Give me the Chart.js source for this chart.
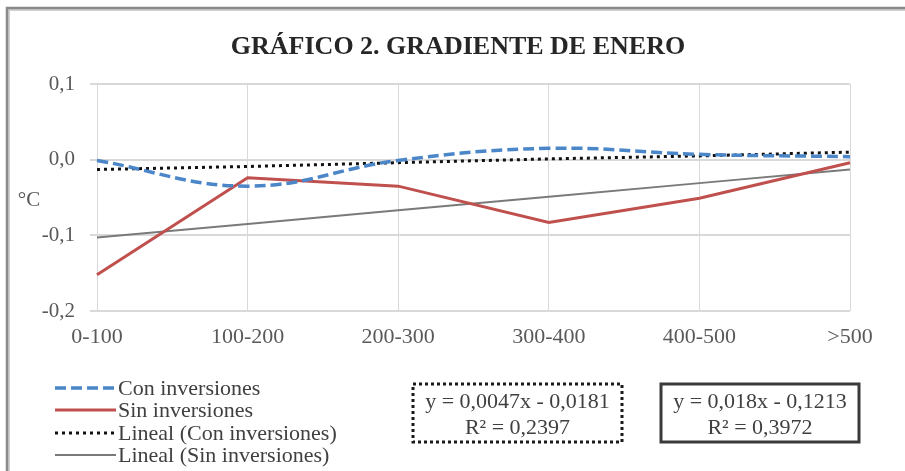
<!DOCTYPE html>
<html>
<head>
<meta charset="utf-8">
<script src="https://cdn.jsdelivr.net/npm/chart.js@4/dist/chart.umd.min.js"></script>
<style>
  html, body { margin: 0; padding: 0; background: #fff; }
  #wrap { width: 905px; height: 471px; position: relative; }
</style>
</head>
<body>
<div id="wrap"><canvas id="c" width="905" height="471"></canvas></div>
<script>
const chartTitle = 'GRÁFICO 2. GRADIENTE DE ENERO';
const yUnit = '°C';
const categories = ['0-100', '100-200', '200-300', '300-400', '400-500', '>500'];
const conInversiones = [-0.001, -0.035, -0.001, 0.015, 0.007, 0.004];
const sinInversiones = [-0.152, -0.024, -0.035, -0.083, -0.051, -0.004];
const linealCon = [-0.013, -0.009, -0.004, 0.001, 0.005, 0.010];
const linealSin = [-0.103, -0.085, -0.067, -0.049, -0.031, -0.013];
const seriesNames = ['Con inversiones', 'Sin inversiones', 'Lineal (Con inversiones)', 'Lineal (Sin inversiones)'];
const yMin = -0.2, yMax = 0.1, yStep = 0.1;
const eqCon = ['y = 0,0047x - 0,0181', 'R² = 0,2397'];
const eqSin = ['y = 0,018x - 0,1213', 'R² = 0,3972'];

const SERIF = '"Liberation Serif", "Times New Roman", serif';

const decorPlugin = {
  id: 'decor',
  beforeDraw(chart) {
    const ctx = chart.ctx;
    ctx.save();
    ctx.fillStyle = '#ffffff';
    ctx.fillRect(0, 0, chart.width, chart.height);
    ctx.strokeStyle = '#d0d0d0';
    ctx.lineWidth = 2;
    ctx.strokeRect(9, 10, chart.width + 20, chart.height + 20);
    ctx.strokeStyle = '#8a8a8a';
    ctx.lineWidth = 2.5;
    ctx.strokeRect(7, 8, chart.width + 20, chart.height + 20);
    ctx.restore();
  },
  afterDraw(chart) {
    const ctx = chart.ctx;
    ctx.save();
    ctx.fillStyle = '#262626';
    ctx.font = 'bold 26px ' + SERIF;
    ctx.textAlign = 'center';
    ctx.textBaseline = 'middle';
    ctx.fillText(chartTitle, 458, 47);
    ctx.fillStyle = '#595959';
    ctx.font = '21px ' + SERIF;
    ctx.fillText(yUnit, 29, 200);
    const rows = [388, 410, 433, 455];
    ctx.textAlign = 'left';
    chart.data.datasets.forEach((ds, i) => {
      const y = rows[i];
      ctx.beginPath();
      ctx.strokeStyle = ds.borderColor;
      ctx.lineWidth = ds.borderWidth;
      ctx.setLineDash(ds.borderDash || []);
      ctx.lineCap = 'butt';
      ctx.moveTo(55, y);
      ctx.lineTo(116, y);
      ctx.stroke();
      ctx.setLineDash([]);
      ctx.fillStyle = '#404040';
      ctx.font = '22px ' + SERIF;
      ctx.textBaseline = 'middle';
      ctx.fillText(ds.label, 118, y + 1);
    });
    const drawBox = (x1, y1, x2, y2, lines, dash, color, lw) => {
      ctx.beginPath();
      ctx.strokeStyle = color;
      ctx.lineWidth = lw;
      ctx.setLineDash(dash);
      ctx.rect(x1, y1, x2 - x1, y2 - y1);
      ctx.stroke();
      ctx.setLineDash([]);
      ctx.fillStyle = '#404040';
      ctx.font = '22px ' + SERIF;
      ctx.textAlign = 'center';
      ctx.textBaseline = 'middle';
      const cx = (x1 + x2) / 2;
      ctx.fillText(lines[0], cx, 402);
      ctx.fillText(lines[1], cx, 428);
    };
    drawBox(413, 384, 622, 442, eqCon, [3, 3], '#1a1a1a', 3);
    drawBox(661, 384, 859, 442, eqSin, [], '#3a3a3a', 3);
    ctx.restore();
  }
};

new Chart(document.getElementById('c'), {
  type: 'line',
  data: {
    labels: categories,
    datasets: [
      { label: seriesNames[0], data: conInversiones, borderColor: '#4a86c8', borderWidth: 3.5, borderDash: [11, 5], tension: 0.4, pointRadius: 0, fill: false },
      { label: seriesNames[1], data: sinInversiones, borderColor: '#c0504d', borderWidth: 3, tension: 0, pointRadius: 0, fill: false },
      { label: seriesNames[2], data: linealCon, borderColor: '#111111', borderWidth: 3, borderDash: [3, 4], tension: 0, pointRadius: 0, fill: false },
      { label: seriesNames[3], data: linealSin, borderColor: '#7a7a7a', borderWidth: 2, tension: 0, pointRadius: 0, fill: false }
    ]
  },
  options: {
    responsive: false,
    animation: false,
    devicePixelRatio: 1,
    layout: { padding: { top: 84, right: 55, left: 0, bottom: 0 } },
    plugins: { legend: { display: false }, title: { display: false }, tooltip: { enabled: false } },
    scales: {
      x: {
        type: 'category',
        offset: false,
        grid: { color: '#d9d9d9', lineWidth: 1, drawTicks: false },
        border: { display: false },
        ticks: { color: '#595959', font: { family: SERIF, size: 22 }, padding: 13, maxRotation: 0, autoSkip: false },
        afterFit(scale) { scale.height = 160; }
      },
      y: {
        min: yMin, max: yMax,
        grid: { color: '#d9d9d9', lineWidth: 2, drawTicks: true, tickLength: 7 },
        border: { display: false },
        ticks: {
          stepSize: yStep, color: '#595959', font: { family: SERIF, size: 21 }, padding: 15,
          callback: (v) => (Math.abs(v) < 1e-9 ? 0 : v).toFixed(1).replace('.', ',')
        },
        afterFit(scale) { scale.width = 97; }
      }
    }
  },
  plugins: [decorPlugin]
});
</script>
</body>
</html>
